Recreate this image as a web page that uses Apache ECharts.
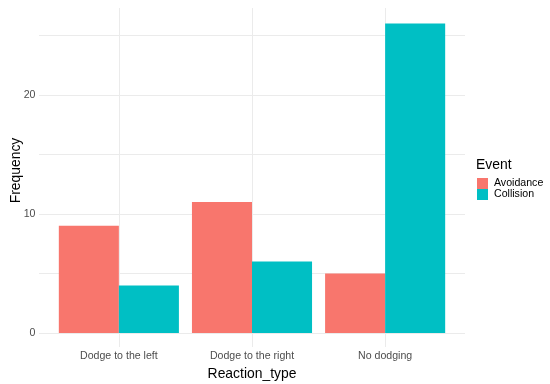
<!DOCTYPE html>
<html><head><meta charset="utf-8">
<script src="https://cdn.jsdelivr.net/npm/echarts@6/dist/echarts.min.js"></script>
<style>html,body{margin:0;padding:0;background:#fff}#c{width:550px;height:384px}</style>
</head><body><div id="c"></div>
<script>
const categories = ['Dodge to the left', 'Dodge to the right', 'No dodging'];
const avoidance = [9, 11, 5];
const collision = [4, 6, 26];
const seriesNames = ['Avoidance', 'Collision'];
const yMax = 27.3;

const FONT = 'Liberation Sans, Arial, sans-serif';
const GRIDC = '#ebebeb';
const chart = echarts.init(document.getElementById('c'), null, {renderer: 'canvas'});
chart.setOption({
  backgroundColor: '#fff',
  animation: false,
  textStyle: {fontFamily: FONT},
  title: {text: 'Event', left: 476, top: 158.5, padding: 0,
    textStyle: {fontFamily: FONT, fontSize: 13.9, fontWeight: 'normal', color: '#000'}},
  legend: {
    orient: 'vertical', left: 477, top: 178, padding: 0, itemWidth: 11, itemHeight: 11, itemGap: 0,
    icon: 'rect', data: seriesNames,
    textStyle: {fontFamily: FONT, fontSize: 10.6, lineHeight: 11, color: '#000', padding: [0, 0, 0, 1]}
  },
  grid: [
    {left: 39, right: 85, top: 8, bottom: 51, outerBoundsMode: 'none', containLabel: false},
    {left: 52.3, right: 98.3, top: 8, bottom: 51, outerBoundsMode: 'none', containLabel: false}
  ],
  xAxis: [
    {gridIndex: 0, type: 'value', min: 0, max: 1, show: false},
    {gridIndex: 1, type: 'category', data: categories,
     axisLine: {show: false},
     axisTick: {show: true, alignWithLabel: true, length: 14, lineStyle: {color: GRIDC}},
     splitLine: {show: true, alignWithLabel: true, lineStyle: {color: GRIDC}},
     axisLabel: {margin: 18, fontFamily: FONT, fontSize: 10.6, color: '#4d4d4d'},
     name: 'Reaction_type', nameLocation: 'middle', nameGap: 25,
     nameTextStyle: {fontFamily: FONT, fontSize: 13.9, color: '#000'}}
  ],
  yAxis: [
    {gridIndex: 0, type: 'value', min: 0, max: yMax, interval: 5,
     axisLine: {show: false}, axisTick: {show: false},
     splitLine: {show: true, showMaxLine: false, lineStyle: {color: GRIDC}},
     axisLabel: {margin: 3.5, fontFamily: FONT, fontSize: 10.6, color: '#4d4d4d', showMaxLabel: false,
       formatter: v => (v % 10 === 0 ? String(v) : '')},
     name: 'Frequency', nameLocation: 'middle', nameGap: 16, nameMoveOverlap: false,
     nameTextStyle: {fontFamily: FONT, fontSize: 13.9, color: '#000'}},
    {gridIndex: 1, type: 'value', min: 0, max: yMax, show: false}
  ],
  series: [
    {name: seriesNames[0], type: 'bar', xAxisIndex: 1, yAxisIndex: 1, data: avoidance,
     barWidth: '45.1%', barGap: '0%', itemStyle: {color: '#F8766D'}},
    {name: seriesNames[1], type: 'bar', xAxisIndex: 1, yAxisIndex: 1, data: collision,
     barWidth: '45.1%', barGap: '0%', itemStyle: {color: '#00BFC4'}}
  ]
});
</script></body></html>
